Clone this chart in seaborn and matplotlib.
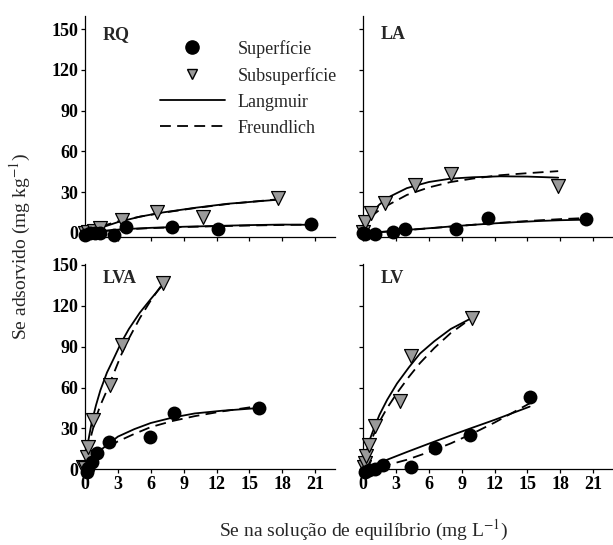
import matplotlib
matplotlib.use("Agg")
import matplotlib.pyplot as plt
from matplotlib.lines import Line2D
import seaborn as sns
import pandas as pd

# ---------------- data ----------------
# RQ
rq_sup_x = [0.0, 0.45, 0.9, 1.4, 2.6, 3.7, 7.9, 12.1, 20.6]
rq_sup_y = [-1.5, 0.0, 0.0, 0.0, -1.5, 4.4, 4.4, 2.9, 6.6]
rq_sub_x = [0.0, 0.3, 0.8, 1.4, 3.4, 6.6, 10.8, 17.6]
rq_sub_y = [0.0, 0.5, 1.5, 3.7, 9.6, 15.7, 12.0, 25.5]
rq_lang_sup_x = [0, 1, 2, 3.5, 6, 9, 12, 15, 18, 20.6]
rq_lang_sup_y = [0, 1.0, 1.8, 2.8, 3.8, 4.6, 5.2, 5.8, 6.2, 6.0]
rq_freu_sup_y = [0, 0.8, 1.6, 2.6, 3.6, 4.4, 5.0, 5.5, 5.9, 6.2]
rq_lang_sub_x = [0, 0.5, 1.5, 3, 5, 7, 10, 13, 17.6]
rq_lang_sub_y = [0, 1.5, 4.0, 8.0, 12.0, 15.0, 18.5, 21.5, 24.5]
rq_freu_sub_y = [0, 2.0, 5.0, 8.5, 12.0, 14.8, 18.3, 21.3, 24.8]

# LA
la_sup_x = [0.0, 0.2, 1.1, 2.7, 3.8, 8.5, 11.4, 20.3]
la_sup_y = [0.0, -1.0, -0.5, 0.5, 2.7, 2.7, 10.8, 10.3]
la_sub_x = [0.0, 0.2, 0.7, 2.0, 4.75, 8.0, 17.8]
la_sub_y = [1.0, 8.3, 14.5, 21.8, 35.3, 43.4, 34.8]
la_lang_sup_x = [0, 2, 4, 6, 8, 10, 12, 14, 16, 18, 20.3]
la_lang_sup_y = [0, 1.0, 2.3, 3.5, 4.8, 6.0, 7.1, 8.0, 8.8, 9.4, 9.8]
la_freu_sup_y = [0, 0.9, 2.1, 3.4, 4.7, 6.0, 7.2, 8.3, 9.3, 10.2, 11.0]
la_lang_sub_x = [0, 0.3, 0.8, 1.5, 2.5, 4, 6, 8, 10, 12.5, 15, 17.8]
la_lang_sub_y = [0, 6, 15, 21, 27, 33, 37.5, 40, 41, 41.7, 41.5, 40.7]
la_freu_sub_y = [0, 7, 12.5, 17, 21.5, 28, 33.5, 37.5, 40, 42.5, 44, 45.5]

# LVA
lva_sup_x = [0.15, 0.3, 0.6, 1.07, 2.2, 5.9, 8.07, 15.9]
lva_sup_y = [-1.7, 1.0, 5.6, 11.7, 19.8, 23.5, 41.0, 45.2]
lva_sub_x = [-0.2, 0.0, 0.15, 0.3, 0.76, 2.28, 3.35, 7.15]
lva_sub_y = [2.0, 0.7, 9.3, 16.6, 36.0, 61.9, 91.2, 136.5]
lva_lang_sup_x = [0, 0.3, 0.7, 1.4, 2.2, 3, 4.5, 6, 8, 10, 12.5, 15.9]
lva_lang_sup_y = [0, 4, 8, 14, 19, 24, 29.5, 34, 38, 41, 43, 45]
lva_freu_sup_y = [0, 7, 10, 13.5, 17, 20.5, 26, 31, 35.5, 39, 42.5, 46.5]
lva_lang_sub_x = [0, 0.3, 0.6, 1.0, 1.4, 2.0, 2.6, 3.3, 4.0, 5.0, 6.0, 7.15]
lva_lang_sub_y = [0, 21, 34, 47, 58, 71, 81, 93, 103, 115, 125, 136]
lva_freu_sub_y = [0, 15, 26, 38, 47, 58, 70, 84, 96, 111, 124, 137]

# LV
lv_sup_x = [0.18, 0.5, 1.07, 1.85, 4.35, 6.55, 9.75, 15.2]
lv_sup_y = [-1.8, -0.5, 0.0, 3.0, 1.9, 16.0, 25.5, 53.3]
lv_sub_x = [0.05, 0.18, 0.3, 0.5, 1.1, 3.35, 4.4, 9.9]
lv_sub_y = [1.5, 4.4, 10.0, 17.8, 31.5, 50.3, 83.1, 110.8]
lv_lang_sup_x = [0, 1, 2, 4, 6, 8, 10, 12, 15.2]
lv_lang_sup_y = [0, 3.2, 6.4, 12.7, 18.8, 24.8, 30.6, 36.3, 46]
lv_freu_sup_y = [0, 0.9, 2.6, 7.0, 12.6, 19.0, 26.3, 34.3, 48.4]
lv_lang_sub_x = [0, 0.3, 0.6, 1.0, 1.5, 2.2, 3.1, 4.2, 5.2, 6.5, 8, 9.9]
lv_lang_sub_y = [0, 12, 21.5, 30, 40, 51, 63, 75, 85, 94, 103, 111]
lv_freu_sub_y = [0, 10, 18, 26, 35, 45, 56, 68, 78, 89, 100, 111]

panel_names = ["RQ", "LA", "LVA", "LV"]
x_ticks = [0, 3, 6, 9, 12, 15, 18, 21]
y_ticks = [0, 30, 60, 90, 120, 150]

panels = {
    "RQ": (rq_sup_x, rq_sup_y, rq_sub_x, rq_sub_y,
           rq_lang_sup_x, rq_lang_sup_y, rq_freu_sup_y,
           rq_lang_sub_x, rq_lang_sub_y, rq_freu_sub_y),
    "LA": (la_sup_x, la_sup_y, la_sub_x, la_sub_y,
           la_lang_sup_x, la_lang_sup_y, la_freu_sup_y,
           la_lang_sub_x, la_lang_sub_y, la_freu_sub_y),
    "LVA": (lva_sup_x, lva_sup_y, lva_sub_x, lva_sub_y,
            lva_lang_sup_x, lva_lang_sup_y, lva_freu_sup_y,
            lva_lang_sub_x, lva_lang_sub_y, lva_freu_sub_y),
    "LV": (lv_sup_x, lv_sup_y, lv_sub_x, lv_sub_y,
           lv_lang_sup_x, lv_lang_sup_y, lv_freu_sup_y,
           lv_lang_sub_x, lv_lang_sub_y, lv_freu_sub_y),
}

sns.set_theme(style="ticks")
plt.rcParams["font.family"] = ["Liberation Serif", "DejaVu Serif"]
plt.rcParams["mathtext.fontset"] = "stix"

fig = plt.figure(figsize=(6.13, 5.45), dpi=100)
# axes positions (left, bottom, width, height) in figure fraction
pos = {
    "RQ": [0.1387, 0.566, 0.4078, 0.4046],
    "LA": [0.5922, 0.566, 0.4078, 0.4046],
    "LVA": [0.1387, 0.1389, 0.4078, 0.3767],
    "LV": [0.5922, 0.1389, 0.4078, 0.3767],
}
ylims = {"RQ": (-2.6, 159.6), "LA": (-2.6, 159.6), "LVA": (0, 150.7), "LV": (0, 150.7)}

lw = 1.3
dash = (6, 3.5)
for name in panel_names:
    (sx, sy, bx, by, lsx, lsy, fsy, lbx, lby, fby) = panels[name]
    ax = fig.add_axes(pos[name])

    # fitted curves
    sns.lineplot(x=lsx, y=lsy, ax=ax, color="black", lw=lw, sort=False, zorder=2)
    sns.lineplot(x=lsx, y=fsy, ax=ax, color="black", lw=lw, sort=False,
                 zorder=2).lines[-1].set_dashes(dash)
    sns.lineplot(x=lbx, y=lby, ax=ax, color="black", lw=lw, sort=False, zorder=2)
    sns.lineplot(x=lbx, y=fby, ax=ax, color="black", lw=lw, sort=False,
                 zorder=2).lines[-1].set_dashes(dash)

    # observed points
    sns.scatterplot(x=bx, y=by, ax=ax, marker="v", s=100, color="#9a9a9a",
                    edgecolor="black", linewidth=0.9, zorder=3, clip_on=False)
    sns.scatterplot(x=sx, y=sy, ax=ax, marker="o", s=100, color="black",
                    edgecolor="black", linewidth=0, zorder=4, clip_on=False)

    ax.set_xlim(0, 22.8)
    ax.set_ylim(*ylims[name])
    ax.set_xticks(x_ticks)
    ax.set_yticks(y_ticks)
    ax.tick_params(axis="both", direction="out", length=3, width=0.9,
                   labelsize=13, pad=2, colors="black")
    for lab in ax.get_xticklabels() + ax.get_yticklabels():
        lab.set_fontweight("bold")
    if name in ("RQ", "LA"):
        ax.set_xticklabels([])
    if name in ("LA", "LV"):
        ax.set_yticklabels([])
    sns.despine(ax=ax)
    for sp in ("left", "bottom"):
        ax.spines[sp].set_linewidth(0.9)
        ax.spines[sp].set_color("black")
    ax.set_xlabel("")
    ax.set_ylabel("")
    ax.patch.set_alpha(0)
    ax.text(0.07, 0.915 if name in ("RQ", "LA") else 0.93, name, transform=ax.transAxes,
            fontsize=13, fontweight="bold", ha="left", va="center")

    if name == "RQ":
        handles = [
            Line2D([], [], marker="o", ls="none", color="black", markersize=9.5),
            Line2D([], [], marker="v", ls="none", markerfacecolor="#9a9a9a",
                   markeredgecolor="black", markersize=7),
            Line2D([], [], color="black", lw=lw),
            Line2D([], [], color="black", lw=lw, dashes=dash),
        ]
        ax.legend(handles, ["Superfície", "Subsuperfície", "Langmuir", "Freundlich"],
                  loc="upper left", bbox_to_anchor=(0.27, 0.925), frameon=False,
                  fontsize=13, handlelength=3.6, handletextpad=0.7,
                  labelspacing=0.5, borderaxespad=0)

fig.text(0.033, 0.547, "Se adsorvido (mg kg$^{-1}$)", rotation=90,
         ha="center", va="center", fontsize=14)
fig.text(0.594, 0.026, "Se na solução de equilíbrio (mg L$^{-1}$)",
         ha="center", va="center", fontsize=14)

fig.savefig("out.png", dpi=100)
